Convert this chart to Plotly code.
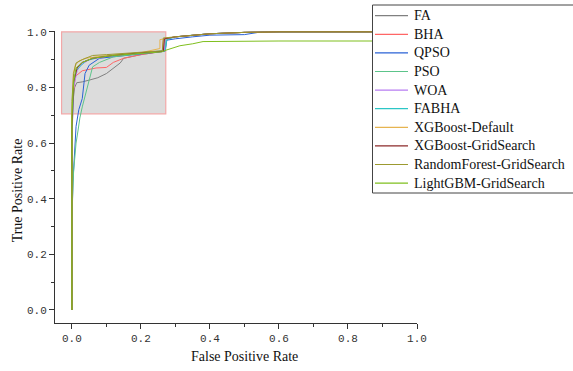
import plotly.graph_objects as go

names = ["FA", "BHA", "QPSO", "PSO", "WOA", "FABHA", "XGBoost-Default",
         "XGBoost-GridSearch", "RandomForest-GridSearch", "LightGBM-GridSearch"]
colors = ["#808080", "#ff6666", "#2a62d6", "#5cc48a", "#b77cf2", "#2cc6c6",
          "#e6b450", "#8c2a2a", "#9c9a30", "#7fbf1e"]

tail_fpr = [0.3, 0.35, 0.4, 0.5, 0.6, 1.0]
tail_tpr = [0.982, 0.988, 0.993, 0.998, 1.0, 1.0]

fa_fpr = [0, 0, 0.003, 0.008, 0.014, 0.03, 0.052, 0.075, 0.1, 0.12, 0.14, 0.15, 0.2, 0.265, 0.268] + tail_fpr
fa_tpr = [0, 0.6, 0.75, 0.8, 0.817, 0.82, 0.827, 0.835, 0.85, 0.87, 0.888, 0.905, 0.918, 0.93, 0.975] + tail_tpr

bha_fpr = [0, 0, 0.004, 0.01, 0.03, 0.05, 0.07, 0.1, 0.12, 0.15, 0.2, 0.262, 0.265] + tail_fpr
bha_tpr = [0, 0.65, 0.78, 0.84, 0.86, 0.865, 0.87, 0.872, 0.89, 0.905, 0.918, 0.93, 0.972] + tail_tpr

qpso_fpr = [0, 0, 0.003, 0.008, 0.012, 0.02, 0.03, 0.038, 0.05, 0.08, 0.15, 0.27, 0.275, 0.3, 0.35, 0.4, 0.5, 0.55, 1.0]
qpso_tpr = [0, 0.3, 0.46, 0.6, 0.66, 0.72, 0.76, 0.85, 0.88, 0.905, 0.915, 0.93, 0.97, 0.975, 0.982, 0.988, 0.99, 1.0, 1.0]

pso_fpr = [0, 0, 0.005, 0.012, 0.018, 0.023, 0.03, 0.04, 0.052, 0.06, 0.08, 0.12, 0.2, 0.27, 0.272] + tail_fpr
pso_tpr = [0, 0.35, 0.5, 0.6, 0.647, 0.69, 0.73, 0.78, 0.84, 0.874, 0.89, 0.91, 0.922, 0.932, 0.975] + tail_tpr

woa_fpr = [0, 0, 0.005, 0.015, 0.025, 0.05, 0.1, 0.2, 0.268, 0.27] + tail_fpr
woa_tpr = [0, 0.6, 0.8, 0.86, 0.88, 0.9, 0.912, 0.925, 0.93, 0.975] + tail_tpr

fabha_fpr = [0, 0, 0.005, 0.012, 0.023, 0.04, 0.08, 0.15, 0.27, 0.275] + tail_fpr
fabha_tpr = [0, 0.62, 0.82, 0.86, 0.875, 0.895, 0.91, 0.92, 0.932, 0.972] + tail_tpr

xgbd_fpr = [0, 0, 0.004, 0.01, 0.02, 0.04, 0.1, 0.2, 0.255, 0.255] + tail_fpr
xgbd_tpr = [0, 0.7, 0.85, 0.88, 0.895, 0.905, 0.915, 0.925, 0.94, 0.972] + tail_tpr

xgbg_fpr = [0, 0, 0.005, 0.015, 0.03, 0.06, 0.12, 0.2, 0.265, 0.268] + tail_fpr
xgbg_tpr = [0, 0.65, 0.82, 0.87, 0.89, 0.905, 0.915, 0.925, 0.93, 0.975] + tail_tpr

rf_fpr = [0, 0, 0.005, 0.012, 0.03, 0.06, 0.1, 0.2, 0.262, 0.265] + tail_fpr
rf_tpr = [0, 0.75, 0.85, 0.888, 0.9, 0.915, 0.918, 0.925, 0.932, 0.978] + tail_tpr

lgb_fpr = [0, 0, 0.005, 0.012, 0.03, 0.06, 0.12, 0.2, 0.26, 0.275, 0.313, 0.35, 0.38, 0.6, 1.0]
lgb_tpr = [0, 0.7, 0.82, 0.87, 0.89, 0.905, 0.915, 0.922, 0.928, 0.935, 0.95, 0.957, 0.965, 0.967, 0.967]

fprs = [fa_fpr, bha_fpr, qpso_fpr, pso_fpr, woa_fpr, fabha_fpr, xgbd_fpr, xgbg_fpr, rf_fpr, lgb_fpr]
tprs = [fa_tpr, bha_tpr, qpso_tpr, pso_tpr, woa_tpr, fabha_tpr, xgbd_tpr, xgbg_tpr, rf_tpr, lgb_tpr]

tick_vals = [0.0, 0.2, 0.4, 0.6, 0.8, 1.0]
tick_text = ["0.0", "0.2", "0.4", "0.6", "0.8", "1.0"]

W, H = 573, 371
ML, MR, MT, MB = 55, 156, 31, 48
PW, PH = W - ML - MR, H - MT - MB


def px_x(p):
    return (p - ML) / PW


def px_y(p):
    return (H - MB - p) / PH


fig = go.Figure()
for n, c, fx, ty in zip(names, colors, fprs, tprs):
    fig.add_trace(go.Scatter(x=fx, y=ty, mode="lines", name=n,
                             line=dict(color=c, width=1)))

fig.add_shape(type="rect", x0=-0.03, x1=0.272, y0=0.705, y1=1.0,
              xref="x", yref="y", layer="below",
              fillcolor="#dcdcdc", line=dict(color="#f2a8a8", width=1.2))

# legend box (drawn as shapes + text, with entry spacing as in the reference)
fig.add_shape(type="rect", xref="paper", yref="paper",
              x0=px_x(372.5), x1=px_x(580), y0=px_y(193), y1=px_y(5),
              fillcolor="white", line=dict(color="#444", width=1), layer="above")
annotations = []
for i, (n, c) in enumerate(zip(names, colors)):
    yc = 15.7 + i * 18.6
    fig.add_shape(type="line", xref="paper", yref="paper",
                  x0=px_x(375), x1=px_x(408), y0=px_y(yc), y1=px_y(yc),
                  line=dict(color=c, width=1.2), layer="above")
    annotations.append(dict(text=n, xref="paper", yref="paper",
                            x=px_x(412), y=px_y(yc), xanchor="left", yanchor="middle",
                            showarrow=False, font=dict(size=14, color="#111")))

tickfont = dict(family="Liberation Mono", size=11, color="#333")
axis_common = dict(showgrid=False, zeroline=False, showline=True, linecolor="#333",
                   linewidth=1, ticks="outside", ticklen=5, tickcolor="#333",
                   tickvals=tick_vals, ticktext=tick_text, tickfont=tickfont,
                   minor=dict(ticks="outside", ticklen=3, tickcolor="#333",
                              tickvals=[0.1, 0.3, 0.5, 0.7, 0.9]))

fig.update_xaxes(range=[-0.049, 1.0], **axis_common)
fig.update_yaxes(range=[-0.047, 1.003], **axis_common)

annotations += [
    dict(text="False Positive Rate", x=0.5, y=-0.047, xref="x", yref="y",
         yshift=-33, showarrow=False, font=dict(size=14)),
    dict(text="True Positive Rate", x=-0.049, y=0.43, xref="x", yref="y",
         xshift=-38, textangle=-90, showarrow=False, font=dict(size=14)),
]

fig.update_layout(
    width=W, height=H,
    margin=dict(l=ML, r=MR, t=MT, b=MB),
    paper_bgcolor="white", plot_bgcolor="white",
    font=dict(family="Liberation Serif", size=14, color="#111"),
    showlegend=False,
    annotations=annotations,
)

fig.write_html("out.html")
